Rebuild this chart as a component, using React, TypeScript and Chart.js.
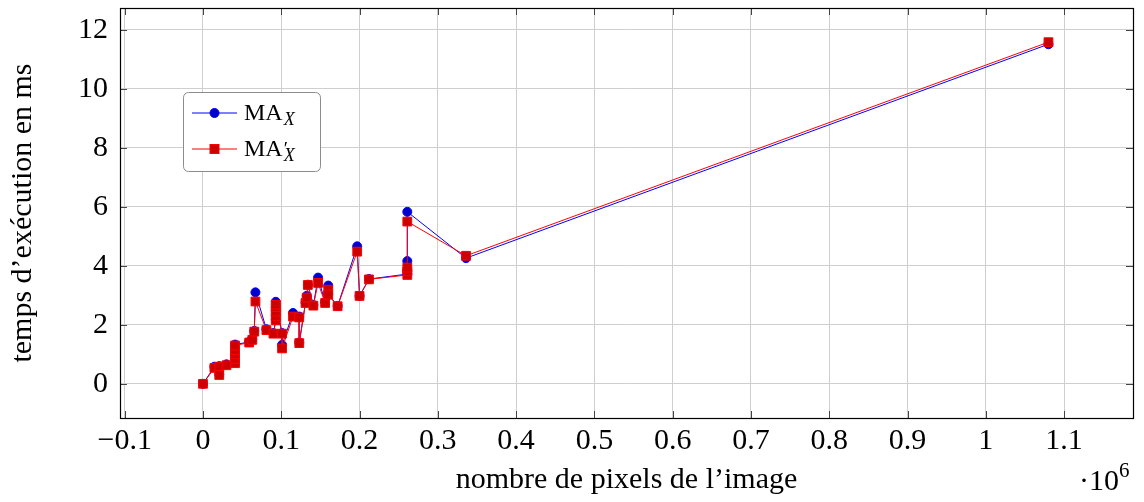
import React, { useEffect, useRef } from 'react';
import { Chart, registerables } from 'chart.js';

Chart.register(...registerables);

// number of pixels of the image
const PIXELS = [
  0, 14600, 20800, 20800, 30000,
  41000, 41000, 41000, 41000, 41000,
  59000, 63000, 65500, 67000, 81000, 90000,
  93000, 93000, 93000, 93000, 93000,
  101000, 101000, 115000, 123000, 123000,
  131000, 132500, 134000, 141000, 147000, 156000, 160000, 160000, 172000,
  197000, 200000, 212000,
  261000, 261000, 261000, 261000,
  336000, 1080000,
];

// execution time (ms) for MA_X
const TIME_MA = [
  0, 0.58, 0.6, 0.32, 0.66,
  0.72, 0.87, 1.02, 1.17, 1.33,
  1.42, 1.51, 1.79, 3.1, 1.85, 1.72,
  2.17, 2.33, 2.48, 2.63, 2.78,
  1.72, 1.32, 2.4, 2.28, 1.4,
  2.76, 2.98, 3.36, 2.67, 3.6, 2.77, 3.33, 3.04, 2.64,
  4.66, 2.98, 3.55,
  3.72, 3.85, 4.16, 5.83,
  4.26, 11.51,
];

// execution time (ms) for MA'_X
const TIME_MA_PRIME = [
  0, 0.54, 0.58, 0.3, 0.63,
  0.7, 0.85, 1.0, 1.15, 1.3,
  1.4, 1.49, 1.77, 2.79, 1.82, 1.7,
  2.15, 2.3, 2.45, 2.6, 2.68,
  1.7, 1.2, 2.28, 2.25, 1.38,
  2.74, 2.92, 3.35, 2.65, 3.42, 2.74, 3.19, 3.02, 2.63,
  4.48, 2.98, 3.54,
  3.69, 3.81, 3.94, 5.5,
  4.34, 11.58,
];

const X_TICKS = [-100000, 0, 100000, 200000, 300000, 400000, 500000, 600000, 700000, 800000, 900000, 1000000, 1100000];
const Y_TICKS = [0, 2, 4, 6, 8, 10, 12];
const X_MIN = -106000;
const X_MAX = 1188000;
const Y_MIN = -1.158;
const Y_MAX = 12.738;

const X_TITLE = 'nombre de pixels de l’image';
const Y_TITLE = 'temps d’exécution en ms';
const SERIES_NAMES = ['MA', 'MA'];
const FONT = '"Liberation Serif", "Times New Roman", serif';

const fmtX = (v: number) => {
  const s = String(Number((v / 1e6).toFixed(1)));
  return s.replace('-', '\u2212');
};

const framePlugin = {
  id: 'framePlugin',
  afterDatasetsDraw(chart: any) {
    const { ctx, chartArea } = chart;
    const { left, right, top, bottom } = chartArea;
    const xs = chart.scales.x;
    const ys = chart.scales.y;
    ctx.save();
    // inward tick marks
    ctx.strokeStyle = '#444';
    ctx.lineWidth = 1;
    const tl = 7;
    ctx.beginPath();
    X_TICKS.forEach((t) => {
      const px = Math.round(xs.getPixelForValue(t)) + 0.5;
      ctx.moveTo(px, bottom);
      ctx.lineTo(px, bottom - tl);
      ctx.moveTo(px, top);
      ctx.lineTo(px, top + tl);
    });
    Y_TICKS.forEach((t) => {
      const py = Math.round(ys.getPixelForValue(t)) + 0.5;
      ctx.moveTo(left, py);
      ctx.lineTo(left + tl, py);
      ctx.moveTo(right, py);
      ctx.lineTo(right - tl, py);
    });
    ctx.stroke();
    // frame
    ctx.strokeStyle = '#000';
    ctx.lineWidth = 1.2;
    ctx.strokeRect(Math.round(left) + 0.5, Math.round(top) + 0.5, Math.round(right - left), Math.round(bottom - top));

    // legend
    const bx = 183.5, by = 92.5, bw = 137, bh = 79;
    ctx.beginPath();
    ctx.roundRect(bx, by, bw, bh, 5);
    ctx.fillStyle = '#fff';
    ctx.fill();
    ctx.strokeStyle = '#8c8c8c';
    ctx.lineWidth = 1;
    ctx.stroke();

    const rows = [
      { y: 113, color: '#0000ff', fill: '#0000cc', marker: 'circle', prime: false },
      { y: 149, color: '#ff0000', fill: '#cc0000', marker: 'rect', prime: true },
    ];
    rows.forEach((r, i) => {
      ctx.strokeStyle = r.color;
      ctx.lineWidth = 1;
      ctx.beginPath();
      ctx.moveTo(192, r.y);
      ctx.lineTo(237, r.y);
      ctx.stroke();
      ctx.fillStyle = r.fill;
      ctx.strokeStyle = r.color;
      if (r.marker === 'circle') {
        ctx.beginPath();
        ctx.arc(214.5, r.y, 4.5, 0, Math.PI * 2);
        ctx.fill();
        ctx.stroke();
      } else {
        ctx.fillRect(210, r.y - 4.5, 9, 9);
        ctx.strokeRect(210, r.y - 4.5, 9, 9);
      }
      ctx.fillStyle = '#000';
      ctx.textAlign = 'left';
      ctx.textBaseline = 'alphabetic';
      ctx.font = `24px ${FONT}`;
      const base = r.y + 7;
      ctx.fillText(SERIES_NAMES[i], 244, base);
      const w = ctx.measureText(SERIES_NAMES[i]).width;
      if (r.prime) {
        ctx.font = `19px ${FONT}`;
        ctx.fillText('\u2032', 244 + w + 1, base - 1);
      }
      ctx.font = `italic 18px ${FONT}`;
      ctx.fillText('X', 244 + w + 1, base + 5);
    });

    // exponent label
    ctx.fillStyle = '#000';
    ctx.textBaseline = 'alphabetic';
    ctx.textAlign = 'left';
    ctx.font = `30px ${FONT}`;
    ctx.fillText('\u00b710', 1079, 490);
    const w2 = ctx.measureText('\u00b710').width;
    ctx.font = `21px ${FONT}`;
    ctx.fillText('6', 1079 + w2, 477);
    ctx.restore();
  },
};

export default function App() {
  const ref = useRef<HTMLCanvasElement | null>(null);
  useEffect(() => {
    if (!ref.current) return;
    const blue = PIXELS.map((x, i) => ({ x, y: TIME_MA[i] }));
    const red = PIXELS.map((x, i) => ({ x, y: TIME_MA_PRIME[i] }));
    const chart = new Chart(ref.current, {
      type: 'scatter',
      data: {
        datasets: [
          {
            label: 'MA_X',
            data: blue,
            showLine: true,
            borderColor: '#0000ff',
            backgroundColor: '#0000cc',
            borderWidth: 1,
            pointStyle: 'circle',
            pointRadius: 4.5,
            pointBorderWidth: 1,
            pointBorderColor: '#0000ff',
            order: 1,
          },
          {
            label: "MA'_X",
            data: red,
            showLine: true,
            borderColor: '#ff0000',
            backgroundColor: '#cc0000',
            borderWidth: 1,
            pointStyle: 'rect',
            pointRadius: 6.2,
            pointBorderWidth: 1,
            pointBorderColor: '#ff0000',
            order: 0,
          },
        ],
      },
      options: {
        animation: false,
        responsive: false,
        maintainAspectRatio: false,
        layout: { padding: { top: 8, right: 11, left: 0, bottom: 0 } },
        plugins: { legend: { display: false }, tooltip: { enabled: false } },
        scales: {
          x: {
            type: 'linear',
            min: X_MIN,
            max: X_MAX,
            afterBuildTicks: (s: any) => { s.ticks = X_TICKS.map((v) => ({ value: v })); },
            afterFit: (s: any) => {
              s.height = 84;
              s.paddingLeft = 0; s.paddingRight = 0; s.paddingTop = 0; s.paddingBottom = 0;
            },
            grid: { color: '#cfcfcf', lineWidth: 1, drawTicks: false },
            border: { display: false },
            ticks: {
              color: '#000',
              font: { family: FONT, size: 30 },
              padding: 5,
              maxRotation: 0,
              autoSkip: false,
              callback: (v: any) => fmtX(Number(v)),
            },
            title: {
              display: true,
              text: X_TITLE,
              color: '#000',
              font: { family: FONT, size: 30 },
              padding: { top: 0, bottom: 4 },
            },
          },
          y: {
            type: 'linear',
            min: Y_MIN,
            max: Y_MAX,
            afterBuildTicks: (s: any) => { s.ticks = Y_TICKS.map((v) => ({ value: v })); },
            afterFit: (s: any) => {
              s.width = 120;
              s.paddingLeft = 0; s.paddingRight = 0; s.paddingTop = 0; s.paddingBottom = 0;
            },
            grid: { color: '#cfcfcf', lineWidth: 1, drawTicks: false },
            border: { display: false },
            ticks: {
              color: '#000',
              font: { family: FONT, size: 30 },
              padding: 12,
              autoSkip: false,
              callback: (v: any) => String(v),
            },
            title: {
              display: true,
              text: Y_TITLE,
              color: '#000',
              font: { family: FONT, size: 30 },
              padding: { top: 5, bottom: 0 },
            },
          },
        },
      },
      plugins: [framePlugin],
    });
    return () => chart.destroy();
  }, []);

  return (
    <div style={{ position: 'fixed', left: 0, top: 0, width: 1144, height: 502, background: '#fff' }}>
      <canvas ref={ref} width={1144} height={502} style={{ width: 1144, height: 502, display: 'block' }} />
    </div>
  );
}
